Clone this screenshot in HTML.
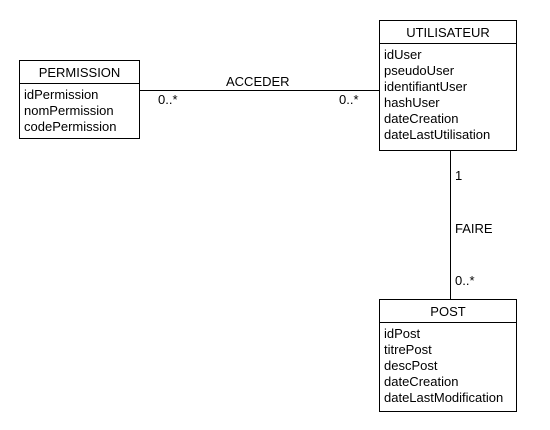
<!DOCTYPE html>
<html><head><style>
body{margin:0;background:#fff;}
.b{position:absolute;border:1px solid #000;background:#fff;font-family:"Liberation Sans",Arial,sans-serif;font-size:13px;color:#000;}
.h{text-align:center;border-bottom:1px solid #000;height:22px;line-height:24px;}
.a{padding:3px 0 0 4px;line-height:16px;}
.t{position:absolute;font-family:"Liberation Sans",Arial,sans-serif;font-size:13px;}
.l{position:absolute;background:#000;}
</style></head><body>
<div class="l" style="left:139px;top:90px;width:241px;height:1px"></div>
<div class="l" style="left:450px;top:149px;width:1px;height:151px"></div>
<div class="b" style="left:19px;top:60px;width:119px;height:77px"><div class="h">PERMISSION</div><div class="a">idPermission<br>nomPermission<br>codePermission</div></div>
<div class="b" style="left:379px;top:20px;width:136px;height:129px"><div class="h">UTILISATEUR</div><div class="a">idUser<br>pseudoUser<br>identifiantUser<br>hashUser<br>dateCreation<br>dateLastUtilisation</div></div>
<div class="b" style="left:379px;top:299px;width:136px;height:111px"><div class="h">POST</div><div class="a">idPost<br>titrePost<br>descPost<br>dateCreation<br>dateLastModification</div></div>
<div class="t" style="left:226px;top:74px">ACCEDER</div>
<div class="t" style="left:158px;top:92px">0..*</div>
<div class="t" style="left:339px;top:92px">0..*</div>
<div class="t" style="left:455px;top:168px">1</div>
<div class="t" style="left:455px;top:221px">FAIRE</div>
<div class="t" style="left:455px;top:273px">0..*</div>
</body></html>
